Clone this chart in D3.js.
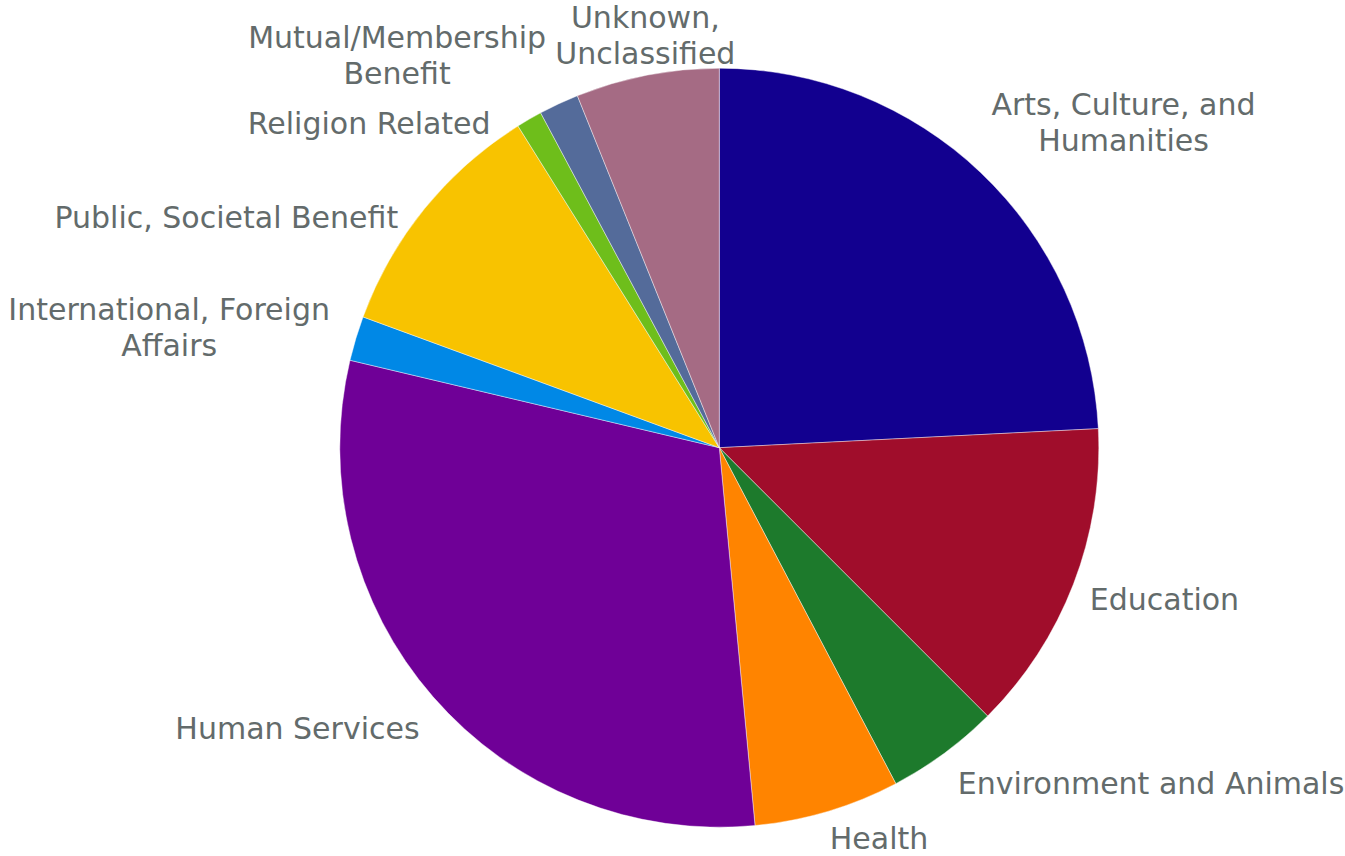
<!DOCTYPE html>
<html>
<head>
<meta charset="utf-8">
<script src="https://cdn.jsdelivr.net/npm/d3@7/dist/d3.min.js"></script>
<style>
  html, body { margin: 0; padding: 0; background: #ffffff; }
  svg { display: block; }
  .label { font-family: "DejaVu Sans", Verdana, sans-serif; font-size: 30px; fill: #636b6b; }
</style>
</head>
<body>
<svg id="chart" width="1345" height="856"></svg>
<script>
// Share of organisations by category (percent), clockwise from 12 o'clock
const categories = [
  "Arts, Culture, and\nHumanities",
  "Education",
  "Environment and Animals",
  "Health",
  "Human Services",
  "International, Foreign\nAffairs",
  "Public, Societal Benefit",
  "Religion Related",
  "Mutual/Membership\nBenefit",
  "Unknown,\nUnclassified"
];
const shares = [24.2, 13.3, 4.8, 6.2, 30.2, 1.9, 10.5, 1.1, 1.7, 6.1];

// Slice colours
const sliceColors = [
  "#12008f", "#a00d2b", "#1d7a2c", "#ff8400", "#6f0097",
  "#0088e6", "#f8c300", "#6ebe1b", "#546b9a", "#a56b84"
];

// Label placement: nudge from the point just outside each slice's mid-angle
const labelShift = [
  [122, -29], [63, 4], [189, 6], [43, -2], [-113, 11],
  [-158, -3], [-175, 27], [-145, 30], [-149, -22], [4, -11]
];

const cx = 719.3, cy = 447.7, radius = 379.5;
const labelRadius = radius + 30;
const lineHeight = 36;

const svg = d3.select("#chart");
const g = svg.append("g").attr("transform", `translate(${cx},${cy})`);

const rows = categories.map((c, i) => ({ name: c, value: shares[i], color: sliceColors[i], shift: labelShift[i] }));

const pie = d3.pie().sort(null).value(d => d.value);
const arc = d3.arc().innerRadius(0).outerRadius(radius);
const arcs = pie(rows);

g.selectAll("path.slice")
  .data(arcs)
  .join("path")
  .attr("class", "slice")
  .attr("d", arc)
  .attr("fill", d => d.data.color)
  .attr("stroke", "#ffffff")
  .attr("stroke-width", 0.6)
  .attr("stroke-opacity", 0.7);

g.selectAll("text.label")
  .data(arcs)
  .join("text")
  .attr("class", "label")
  .attr("text-anchor", "middle")
  .each(function (d) {
    const mid = (d.startAngle + d.endAngle) / 2;
    const x = labelRadius * Math.sin(mid) + d.data.shift[0];
    const y = -labelRadius * Math.cos(mid) + d.data.shift[1];
    const lines = d.data.name.split("\n");
    const top = y - (lines.length - 1) * lineHeight / 2;
    const t = d3.select(this);
    lines.forEach((line, k) => {
      t.append("tspan")
        .attr("x", x)
        .attr("y", top + k * lineHeight + 11)
        .text(line);
    });
  });
</script>
</body>
</html>
